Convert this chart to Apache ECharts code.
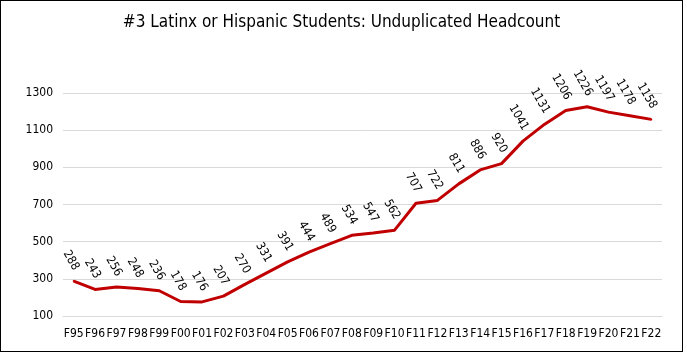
<!DOCTYPE html>
<html>
<head>
<meta charset="utf-8">
<script src="https://cdn.jsdelivr.net/npm/echarts@6/dist/echarts.min.js"></script>
<style>
  html, body { margin: 0; padding: 0; background: #fff; }
  .demo { position: absolute; left: 0; top: 0; width: 683px; height: 352px; border: 1px solid #000; box-sizing: border-box; }
</style>
</head>
<body>
<div class="demo"></div>
<script>
const years = ['F95','F96','F97','F98','F99','F00','F01','F02','F03','F04','F05','F06','F07','F08','F09','F10','F11','F12','F13','F14','F15','F16','F17','F18','F19','F20','F21','F22']
const headcount = [288,243,256,248,236,178,176,207,270,331,391,444,489,534,547,562,707,722,811,886,920,1041,1131,1206,1226,1197,1178,1158]
const yTicks = [100,300,500,700,900,1100,1300]

;(function () {
  const chartinstance = echarts.init(document.querySelector('.demo'))
  const font = "'Liberation Sans Narrow', 'DejaVu Sans Condensed', 'Liberation Sans', sans-serif"
  const option = {
    animation: false,
    title: {
      text: '#3 Latinx or Hispanic Students: Unduplicated Headcount',
      left: 'center',
      top: 8,
      textStyle: { fontFamily: font, fontSize: 17, fontWeight: 'normal', color: '#000' }
    },
    grid: { left: 62, right: 20, top: 92, bottom: 35 },
    xAxis: {
      type: 'category',
      data: years,
      boundaryGap: true,
      axisLine: { lineStyle: { color: '#d9d9d9' } },
      axisTick: { show: false },
      axisLabel: { interval: 0, color: '#000', fontFamily: font, fontSize: 12, margin: 12 }
    },
    yAxis: {
      type: 'value',
      min: yTicks[0],
      max: yTicks[yTicks.length - 1],
      interval: 200,
      axisLine: { show: false },
      axisTick: { show: false },
      splitLine: { lineStyle: { color: '#d9d9d9' } },
      axisLabel: { color: '#000', fontFamily: font, fontSize: 12, margin: 10, formatter: v => String(v) }
    },
    series: [
      {
        type: 'line',
        data: headcount,
        symbol: 'circle',
        symbolSize: 2,
        showSymbol: true,
        showAllSymbol: true,
        itemStyle: { color: '#c00000' },
        lineStyle: { color: '#c00000', width: 3 },
        label: {
          show: true,
          position: 'top',
          distance: 15,
          offset: [5, 0],
          rotate: -60,
          align: 'right',
          verticalAlign: 'middle',
          color: '#000',
          fontFamily: font,
          fontSize: 12
        }
      }
    ]
  }
  option && chartinstance.setOption(option)
  window.addEventListener('resize', () => {
    chartinstance.resize()
  })
})();
</script>
</body>
</html>
